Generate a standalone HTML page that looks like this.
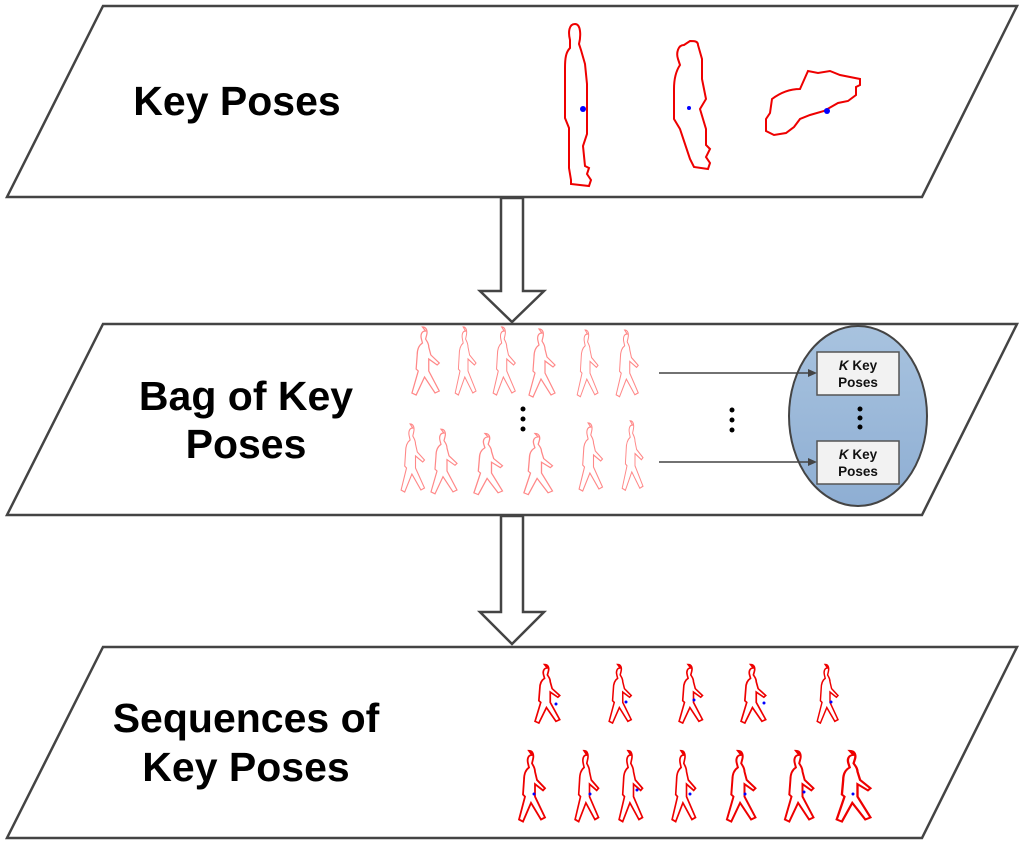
<!DOCTYPE html>
<html><head><style>
body{margin:0;background:#fff;}
svg{display:block;}
text{font-family:"Liberation Sans",Arial,sans-serif;font-weight:bold;}
</style></head><body>
<svg width="1024" height="845" viewBox="0 0 1024 845" xmlns="http://www.w3.org/2000/svg">
<defs>
<path id="w" d="M12,0 c-4,0 -5,4 -4,8 l1,4 c-3,2 -5,6 -5,12 l-1,14 l2,2 l-6,22 l4,2 l8,-18 l10,16 l4,-2 l-10,-20 l0,-12 l8,6 l2,-2 l-8,-8 l-2,-8 c0,-4 -2,-6 -3,-8 l1,-4 c1,-4 0,-8 -4,-8z" fill="none"/>
</defs>
<g fill="#fff" stroke="#444" stroke-width="2.5">
<polygon points="103,6 1017,6 922,197 7,197"/>
<polygon points="103,324 1017,324 922,515 7,515"/>
<polygon points="103,647 1017,647 922,838 7,838"/>
<polygon points="501,198 523,198 523,291 544,291 512,322 480,291 501,291"/>
<polygon points="501,516 523,516 523,612 544,612 512,644 480,612 501,612"/>
</g>
<text x="237" y="115" font-size="41" text-anchor="middle">Key Poses</text>
<text x="246" y="410" font-size="41" text-anchor="middle">Bag of Key</text>
<text x="246" y="458" font-size="41" text-anchor="middle">Poses</text>
<text x="246" y="732" font-size="41" text-anchor="middle">Sequences of</text>
<text x="246" y="781" font-size="41" text-anchor="middle">Key Poses</text>

<g fill="none" stroke="#e00" stroke-width="2">
<path d="M575,24 c-6,0 -7,8 -5,16 l0,8 c-4,4 -5,10 -5,20 l0,50 l4,10 l0,40 l2,12 l0,4 l18,2 l2,-6 l-4,-6 l2,-6 l-4,-2 l-2,-20 l4,-12 l0,-50 l-2,-20 l-4,-14 l-2,-6 c2,-8 2,-20 -4,-20z"/>
<path d="M684,45 c-6,0 -8,8 -6,14 l2,6 c-4,6 -6,14 -6,24 l0,30 l6,10 l6,18 l4,12 l4,8 l14,2 l2,-6 l-4,-6 l4,-8 l-4,-4 l0,-16 l-6,-20 l6,-10 l-4,-20 l0,-20 l-4,-14 c0,-4 -4,-4 -8,-4z"/>
<path d="M800,89 c-10,0 -20,4 -28,10 l-2,14 l-4,6 l0,12 l8,4 l12,-2 l8,-6 l6,-8 l10,-4 l14,-4 l14,-8 l10,-2 l8,-6 l0,-8 l4,-2 l0,-6 l-20,-4 l-10,-4 l-12,2 l-10,-2z"/>
</g>
<g fill="#00f"><circle cx="583" cy="109" r="3"/><circle cx="689" cy="108" r="2"/><circle cx="827" cy="111" r="3"/></g>

<g stroke="#f88" stroke-width="1.2">
<use href="#w" transform="translate(413,331) scale(1.05,1.0)"/>
<use href="#w" transform="translate(456,331) scale(0.8,1.0)"/>
<use href="#w" transform="translate(494,331) scale(0.85,1.0)"/>
<use href="#w" transform="translate(530,333) scale(1.0,1.0)"/>
<use href="#w" transform="translate(578,334) scale(0.8,0.98)"/>
<use href="#w" transform="translate(617,334) scale(0.85,0.98)"/>
<use href="#w" transform="translate(402,428) scale(0.9,1.0)"/>
<use href="#w" transform="translate(432,433) scale(1.0,0.95)"/>
<use href="#w" transform="translate(475,437) scale(1.1,0.9)"/>
<use href="#w" transform="translate(525,437) scale(1.1,0.9)"/>
<use href="#w" transform="translate(580,427) scale(0.9,1.0)"/>
<use href="#w" transform="translate(623,425) scale(0.8,1.02)"/>
</g>
<g fill="#000"><circle cx="523" cy="409" r="2.5"/><circle cx="523" cy="419" r="2.5"/><circle cx="523" cy="429" r="2.5"/>
<circle cx="732" cy="410" r="2.5"/><circle cx="732" cy="420" r="2.5"/><circle cx="732" cy="430" r="2.5"/></g>

<defs><linearGradient id="g" x1="0" y1="0" x2="0" y2="1"><stop offset="0" stop-color="#a8c3df"/><stop offset="1" stop-color="#8eaed3"/></linearGradient></defs>
<ellipse cx="858" cy="416" rx="69" ry="90" fill="url(#g)" stroke="#444" stroke-width="2"/>
<g stroke="#444" stroke-width="1.5"><line x1="659" y1="373" x2="810" y2="373"/><line x1="659" y1="462" x2="810" y2="462"/></g>
<g fill="#444"><polygon points="817,373 808,369 808,377"/><polygon points="817,462 808,458 808,466"/></g>
<g fill="#f2f2f2" stroke="#555" stroke-width="1.5">
<rect x="817" y="352" width="82" height="43"/><rect x="817" y="441" width="82" height="43"/></g>
<g font-size="13.5" text-anchor="middle" fill="#111">
<text x="858" y="370"><tspan font-style="italic">K</tspan> Key</text><text x="858" y="387">Poses</text>
<text x="858" y="459"><tspan font-style="italic">K</tspan> Key</text><text x="858" y="476">Poses</text>
</g>
<g fill="#000"><circle cx="860" cy="409" r="2.5"/><circle cx="860" cy="418" r="2.5"/><circle cx="860" cy="427" r="2.5"/></g>

<g stroke="#e00" stroke-width="1.8">
<use href="#w" transform="translate(536,668) scale(0.95,0.86)"/>
<use href="#w" transform="translate(610,668) scale(0.85,0.86)"/>
<use href="#w" transform="translate(680,668) scale(0.9,0.86)"/>
<use href="#w" transform="translate(742,668) scale(0.95,0.86)"/>
<use href="#w" transform="translate(818,668) scale(0.8,0.86)"/>
<use href="#w" transform="translate(520,755) scale(1.0,1.04)"/>
<use href="#w" transform="translate(576,755) scale(0.9,1.04)"/>
<use href="#w" transform="translate(620,755) scale(0.9,1.04)"/>
<use href="#w" transform="translate(673,755) scale(0.9,1.04)"/>
<use href="#w" transform="translate(728,755) scale(1.1,1.04)"/>
<use href="#w" transform="translate(786,755) scale(1.1,1.04)"/>
<use href="#w" transform="translate(838,755) scale(1.3,1.04)"/>
</g>
<g fill="#00f">
<circle cx="556" cy="704" r="1.5"/><circle cx="626" cy="702" r="1.5"/><circle cx="694" cy="700" r="1.5"/><circle cx="764" cy="703" r="1.5"/><circle cx="831" cy="702" r="1.5"/>
<circle cx="534" cy="794" r="1.5"/><circle cx="590" cy="794" r="1.5"/><circle cx="637" cy="790" r="1.5"/><circle cx="690" cy="794" r="1.5"/><circle cx="745" cy="794" r="1.5"/><circle cx="804" cy="792" r="1.5"/><circle cx="853" cy="794" r="1.5"/>
</g>
</svg>
</body></html>
